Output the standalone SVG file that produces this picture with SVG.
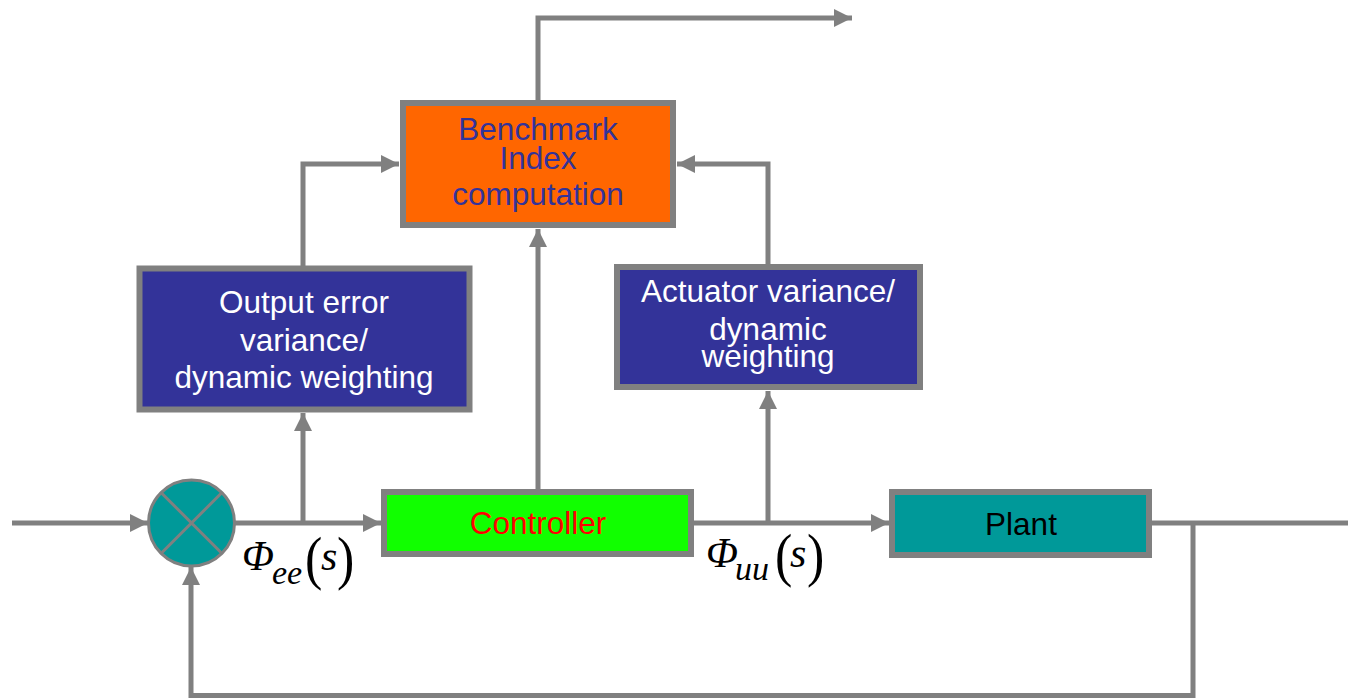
<svg xmlns="http://www.w3.org/2000/svg" width="1348" height="699" viewBox="0 0 1348 699">
<style>
.box{stroke:#808080;stroke-width:6}
.wire{fill:none;stroke:#808080;stroke-width:5}
.lbl{font-family:"Liberation Sans",Arial,sans-serif;font-size:31.5px;text-anchor:middle}
.math{font-family:"Liberation Serif","Times New Roman",serif;fill:#000}
</style>
<defs>
<marker id="arr" markerUnits="userSpaceOnUse" markerWidth="18" markerHeight="18" refX="18" refY="9" orient="auto">
<path d="M0,0 L18,9 L0,18 z" fill="#808080"/>
</marker>
</defs>
<rect width="1348" height="699" fill="#ffffff"/>
<g id="connectors">
<path class="wire" d="M12,523 H148" marker-end="url(#arr)"/>
<path class="wire" d="M235,523 H381" marker-end="url(#arr)"/>
<path class="wire" d="M303,523 V413" marker-end="url(#arr)"/>
<path class="wire" d="M303,266 V164 H399" marker-end="url(#arr)"/>
<path class="wire" d="M538,489 V229" marker-end="url(#arr)"/>
<path class="wire" d="M694,523 H889" marker-end="url(#arr)"/>
<path class="wire" d="M768,523 V391" marker-end="url(#arr)"/>
<path class="wire" d="M768,264 V164 H677" marker-end="url(#arr)"/>
<path class="wire" d="M538,100 V18 H852" marker-end="url(#arr)"/>
<path class="wire" d="M1152,523 H1348"/>
<path class="wire" d="M1193,523 V695.5 H191 V567" marker-end="url(#arr)"/>
</g>
<g id="summer">
<circle cx="191.5" cy="523" r="43" fill="#009999" stroke="#808080" stroke-width="3"/>
<path d="M161,492.5 L222,553.5 M222,492.5 L161,553.5" stroke="#808080" stroke-width="3"/>
</g>
<g id="benchmark">
<rect class="box" x="403" y="103" width="270" height="122" fill="#FF6600"/>
<text class="lbl" fill="#333399" x="538" y="140">Benchmark</text>
<text class="lbl" fill="#333399" x="538" y="169">Index</text>
<text class="lbl" fill="#333399" x="538" y="205">computation</text>
</g>
<g id="output-error">
<rect class="box" x="139.5" y="268.5" width="330" height="141" fill="#333399"/>
<text class="lbl" fill="#ffffff" x="304" y="313">Output error</text>
<text class="lbl" fill="#ffffff" x="304" y="351">variance/</text>
<text class="lbl" fill="#ffffff" x="304" y="388">dynamic weighting</text>
</g>
<g id="actuator">
<rect class="box" x="617" y="267" width="303" height="120" fill="#333399"/>
<text class="lbl" fill="#ffffff" x="768" y="302">Actuator variance/</text>
<text class="lbl" fill="#ffffff" x="768" y="340">dynamic</text>
<text class="lbl" fill="#ffffff" x="768" y="367">weighting</text>
</g>
<g id="controller">
<rect class="box" x="384" y="492" width="307" height="62" fill="#11FF00"/>
<text class="lbl" fill="#FF0000" x="538" y="534">Controller</text>
</g>
<g id="plant">
<rect class="box" x="892" y="492" width="257" height="63" fill="#009999"/>
<text class="lbl" fill="#000000" x="1021" y="535">Plant</text>
</g>
<g id="phi-ee">
<text class="math" font-style="italic" font-size="42" x="242" y="570">Φ</text>
<text class="math" font-style="italic" font-size="34" x="272" y="584">ee</text>
<text class="math" font-size="52" x="305" y="578" transform="translate(305 578) scale(1 1.15) translate(-305 -578)">(</text>
<text class="math" font-style="italic" font-size="42" x="321" y="570">s</text>
<text class="math" font-size="52" x="337" y="578" transform="translate(337 578) scale(1 1.15) translate(-337 -578)">)</text>
</g>
<g id="phi-uu">
<text class="math" font-style="italic" font-size="42" x="706" y="567">Φ</text>
<text class="math" font-style="italic" font-size="34" x="735" y="580">uu</text>
<text class="math" font-size="52" x="775" y="575" transform="translate(775 575) scale(1 1.15) translate(-775 -575)">(</text>
<text class="math" font-style="italic" font-size="42" x="790" y="567">s</text>
<text class="math" font-size="52" x="807" y="575" transform="translate(807 575) scale(1 1.15) translate(-807 -575)">)</text>
</g>
</svg>
